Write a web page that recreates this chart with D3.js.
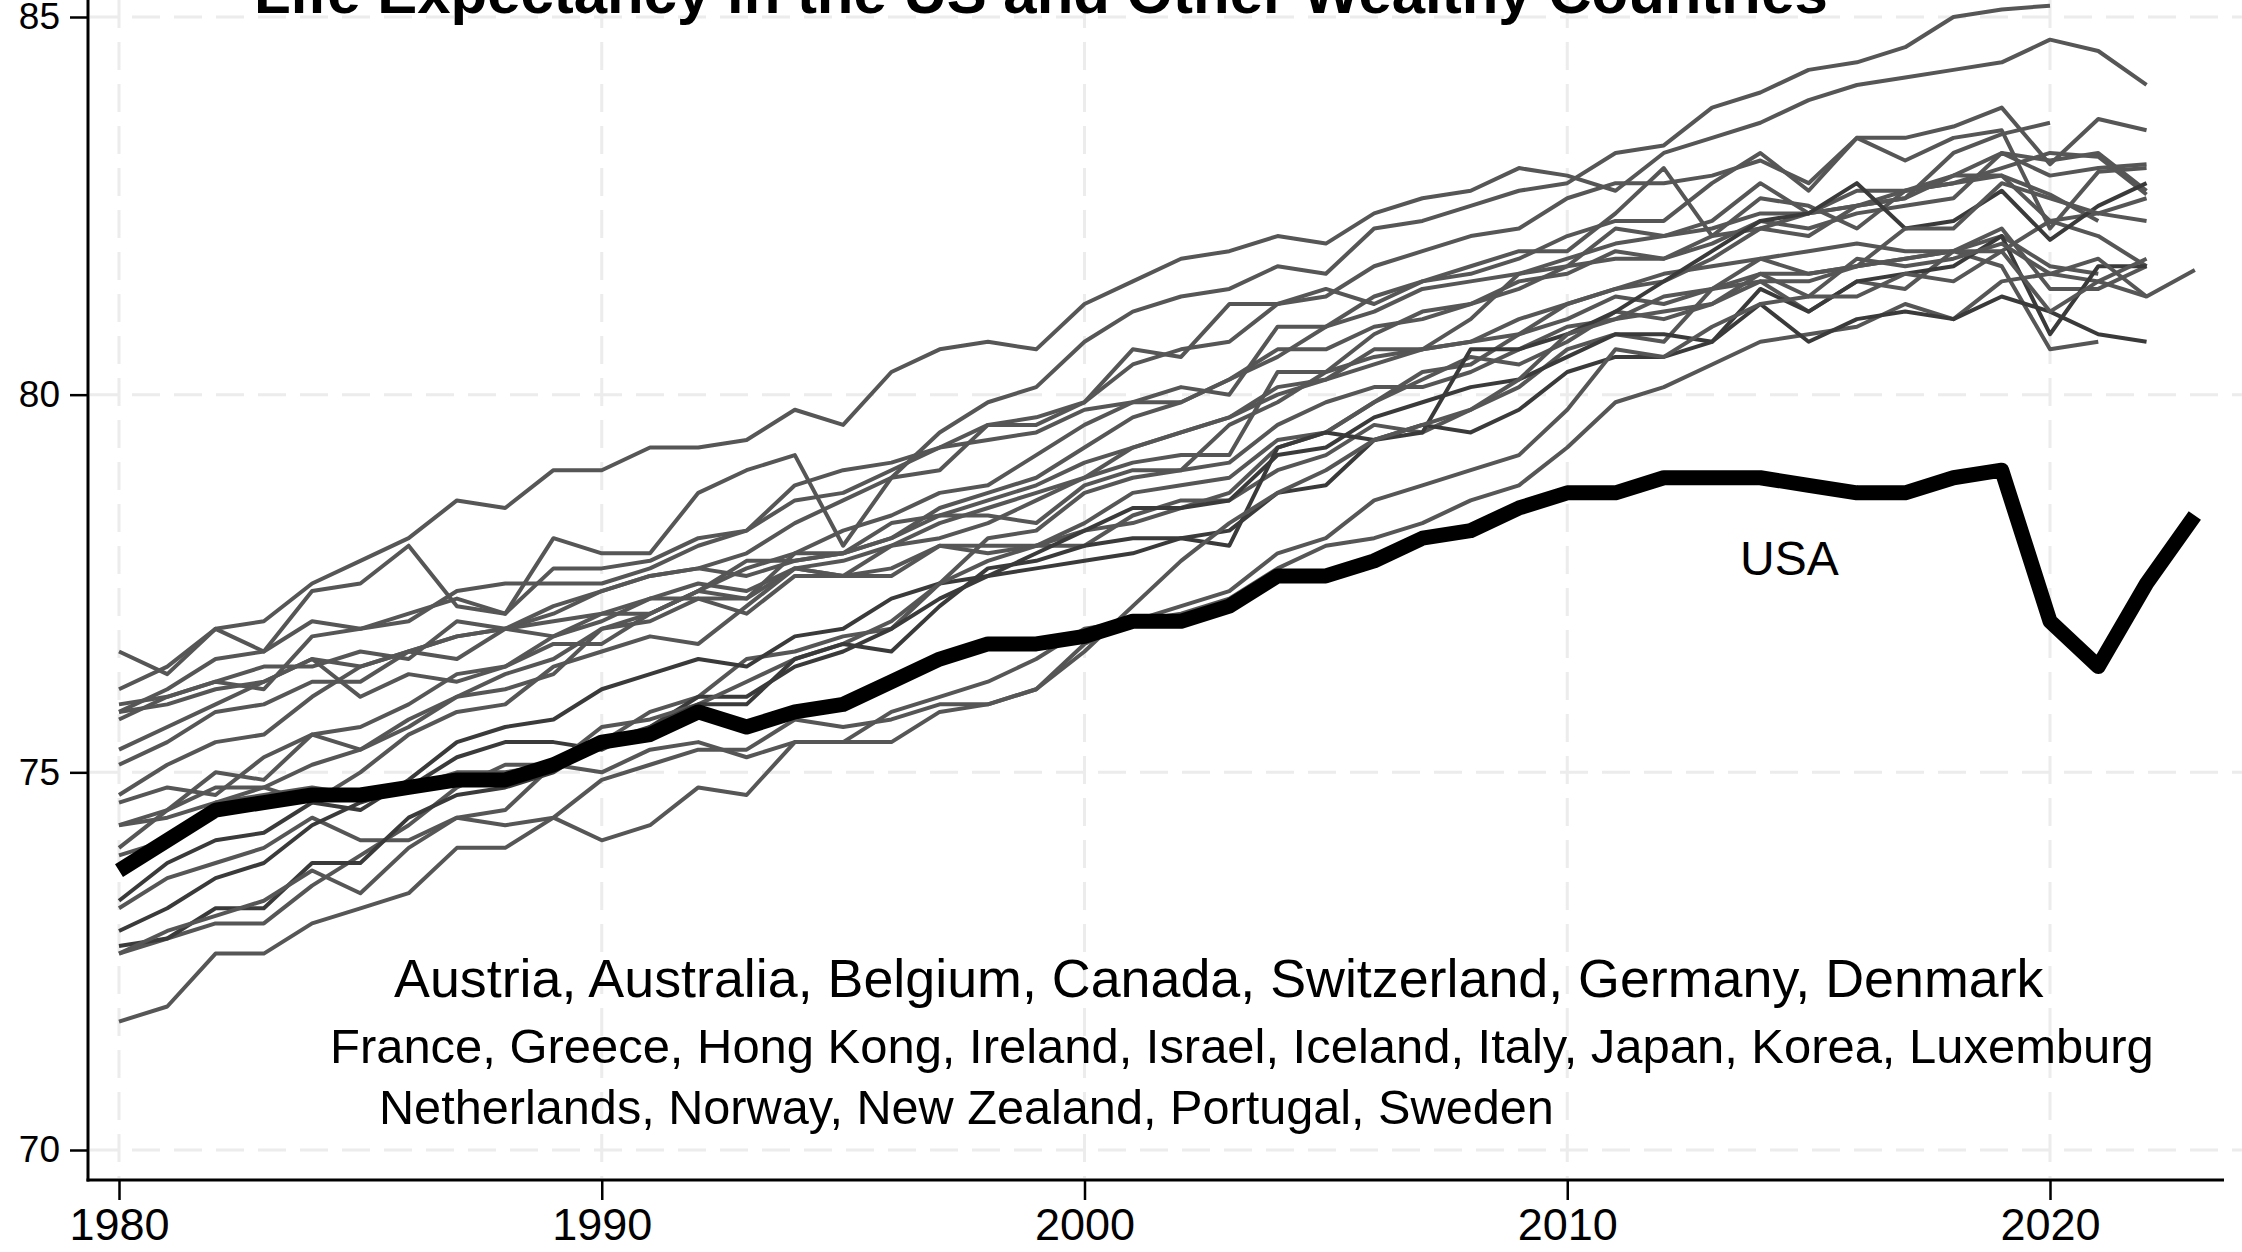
<!DOCTYPE html>
<html>
<head>
<meta charset="UTF-8">
<title>Life Expectancy in the US and Other Wealthy Countries</title>
<script src="https://d3js.org/d3.v7.min.js"></script>
<style>
  body { margin: 0; background: #fff; }
  svg { display: block; font-family: "Liberation Sans", Arial, Helvetica, sans-serif; }
  .grid line { stroke: #ececec; stroke-width: 3; stroke-dasharray: 28,14; }
  .country { fill: none; stroke-width: 4; stroke-linejoin: round; }
  .usa { fill: none; stroke: #000; stroke-width: 15; stroke-linejoin: round; }
  .axis text { fill: #000; }
  .axis line { stroke: #000; stroke-width: 2.5; }
</style>
</head>
<body>
<script>
// ---- data (life expectancy at birth, years) ----
const years = [1980, 1981, 1982, 1983, 1984, 1985, 1986, 1987, 1988, 1989,
  1990, 1991, 1992, 1993, 1994, 1995, 1996, 1997, 1998, 1999,
  2000, 2001, 2002, 2003, 2004, 2005, 2006, 2007, 2008, 2009,
  2010, 2011, 2012, 2013, 2014, 2015, 2016, 2017, 2018, 2019,
  2020, 2021, 2022, 2023];

const xTicks = [1980, 1990, 2000, 2010, 2020];
const yTicks = [70, 75, 80, 85];

const usa = [73.7, 74.1, 74.5, 74.6, 74.7, 74.7, 74.8, 74.9, 74.9, 75.1,
  75.4, 75.5, 75.8, 75.6, 75.8, 75.9, 76.2, 76.5, 76.7, 76.7,
  76.8, 77.0, 77.0, 77.2, 77.6, 77.6, 77.8, 78.1, 78.2, 78.5,
  78.7, 78.7, 78.9, 78.9, 78.9, 78.8, 78.7, 78.7, 78.9, 79.0,
  77.0, 76.4, 77.5, 78.4];

const japan = [76.1, 76.4, 76.9, 77.0, 77.5, 77.8, 78.1, 78.6, 78.5, 79.0,
  79.0, 79.3, 79.3, 79.4, 79.8, 79.6, 80.3, 80.6, 80.7, 80.6,
  81.2, 81.5, 81.8, 81.9, 82.1, 82.0, 82.4, 82.6, 82.7, 83.0,
  82.9, 82.7, 83.2, 83.4, 83.6, 83.9, 84.1, 84.2, 84.3, 84.4,
  84.7, 84.55, 84.1];
const hongKong = [74.7, 75.1, 75.4, 75.5, 76.0, 76.4, 76.6, 76.8, 76.9, 77.1,
  77.4, 77.6, 77.7, 77.9, 78.3, 78.6, 78.9, 79.5, 79.9, 80.1,
  80.7, 81.1, 81.3, 81.4, 81.7, 81.6, 82.2, 82.3, 82.5, 82.7,
  82.8, 83.2, 83.3, 83.8, 84.0, 84.3, 84.4, 84.6, 85.0, 85.1,
  85.15];
const iceland = [76.6, 76.3, 76.9, 76.6, 77.4, 77.5, 78.0, 77.2, 77.1, 78.1,
  77.9, 77.9, 78.7, 79.0, 79.2, 78.0, 78.9, 79.0, 79.6, 79.6,
  79.9, 80.6, 80.5, 81.2, 81.2, 81.4, 81.2, 81.5, 81.7, 81.9,
  81.9, 82.4, 83.0, 82.1, 82.6, 82.5, 82.2, 82.7, 82.9, 83.2,
  83.1, 83.2, 82.7];
const switzerland = [75.7, 76.0, 76.2, 76.1, 76.8, 76.9, 77.0, 77.4, 77.5, 77.5,
  77.5, 77.7, 78.0, 78.2, 78.6, 78.7, 79.0, 79.3, 79.6, 79.7,
  79.9, 80.4, 80.6, 80.7, 81.2, 81.3, 81.7, 81.9, 82.1, 82.2,
  82.6, 82.8, 82.8, 82.9, 83.1, 82.8, 83.4, 83.4, 83.55, 83.8,
  83.05, 83.65, 83.5];
const sweden = [75.8, 76.1, 76.5, 76.6, 77.0, 76.9, 77.1, 77.3, 77.1, 77.7,
  77.7, 77.8, 78.1, 78.2, 78.8, 79.0, 79.1, 79.3, 79.4, 79.5,
  79.8, 79.9, 79.9, 80.2, 80.6, 80.6, 80.9, 81.0, 81.2, 81.5,
  81.6, 81.9, 81.8, 82.0, 82.3, 82.2, 82.4, 82.5, 82.6, 83.2,
  82.9, 83.0, 83.05];
const netherlands = [75.9, 76.0, 76.2, 76.4, 76.4, 76.6, 76.5, 77.0, 76.9, 76.8,
  77.0, 77.3, 77.3, 77.1, 77.6, 77.6, 77.7, 78.0, 78.0, 78.0,
  78.2, 78.3, 78.5, 78.7, 79.3, 79.5, 79.9, 80.3, 80.4, 80.8,
  81.0, 81.3, 81.2, 81.4, 81.8, 81.6, 81.7, 81.8, 81.9, 82.2,
  81.4, 81.4, 81.7];
const norway = [75.8, 75.9, 76.1, 76.2, 76.5, 76.0, 76.3, 76.2, 76.4, 76.7,
  76.7, 77.1, 77.4, 77.3, 77.9, 77.9, 78.3, 78.4, 78.4, 78.3,
  78.8, 79.0, 79.0, 79.6, 79.9, 80.3, 80.5, 80.6, 80.7, 81.0,
  81.2, 81.4, 81.5, 81.8, 82.2, 82.4, 82.5, 82.7, 82.8, 83.0,
  83.2, 83.15, 82.65];
const canada = [75.3, 75.6, 75.9, 76.2, 76.5, 76.4, 76.6, 76.8, 76.9, 77.2,
  77.4, 77.6, 77.7, 77.6, 77.8, 77.9, 78.1, 78.4, 78.6, 78.8,
  79.1, 79.3, 79.5, 79.7, 80.0, 80.2, 80.4, 80.6, 80.7, 80.8,
  81.2, 81.4, 81.6, 81.7, 81.8, 81.9, 82.0, 81.9, 81.9, 82.1,
  81.7, 81.6];
const greece = [75.1, 75.4, 75.8, 75.9, 76.2, 76.2, 76.6, 76.5, 76.9, 77.0,
  77.1, 77.3, 77.5, 77.4, 77.7, 77.6, 77.6, 78.0, 77.9, 78.0,
  78.0, 78.4, 78.6, 78.6, 79.0, 79.2, 79.6, 79.5, 79.8, 80.1,
  80.6, 80.8, 80.7, 81.4, 81.5, 81.1, 81.5, 81.4, 81.9, 81.7,
  80.6, 80.7];
const australia = [74.6, 74.8, 74.7, 75.2, 75.5, 75.3, 75.7, 76.0, 76.1, 76.3,
  76.9, 77.1, 77.4, 77.8, 77.8, 77.9, 78.1, 78.5, 78.7, 78.9,
  79.3, 79.7, 79.9, 80.2, 80.5, 80.9, 81.1, 81.4, 81.5, 81.6,
  81.8, 82.0, 82.1, 82.2, 82.4, 82.4, 82.5, 82.6, 83.2, 83.45,
  83.6];
const denmark = [74.3, 74.4, 74.6, 74.7, 74.8, 74.7, 74.8, 75.0, 75.0, 75.1,
  75.0, 75.3, 75.4, 75.2, 75.4, 75.4, 75.8, 76.0, 76.2, 76.5,
  76.9, 77.0, 77.1, 77.3, 77.7, 78.0, 78.1, 78.3, 78.6, 78.8,
  79.3, 79.9, 80.1, 80.4, 80.7, 80.8, 80.9, 81.2, 81.0, 81.5,
  81.6, 81.5, 81.3];
const france = [74.3, 74.5, 74.8, 74.8, 75.1, 75.3, 75.6, 76.0, 76.3, 76.5,
  76.9, 77.0, 77.3, 77.3, 77.7, 77.8, 78.0, 78.3, 78.5, 78.7,
  78.9, 79.1, 79.2, 79.2, 80.3, 80.3, 80.8, 81.1, 81.2, 81.4,
  81.7, 82.2, 82.1, 82.3, 82.8, 82.4, 82.7, 82.7, 82.8, 82.9,
  82.3, 82.4, 82.3];
const italy = [74.0, 74.5, 75.0, 74.9, 75.5, 75.6, 75.9, 76.3, 76.4, 76.8,
  77.1, 77.1, 77.4, 77.7, 77.9, 78.2, 78.4, 78.7, 78.8, 79.2,
  79.6, 79.9, 80.1, 80.0, 80.9, 80.9, 81.3, 81.5, 81.6, 81.8,
  82.1, 82.3, 82.3, 82.8, 83.2, 82.7, 83.4, 83.1, 83.4, 83.5,
  82.2, 82.95, 83.0];
const israel = [73.9, 74.1, 74.6, 74.8, 74.6, 75.0, 75.5, 75.8, 75.9, 76.4,
  76.6, 76.8, 76.7, 77.2, 77.7, 77.6, 78.0, 78.1, 78.3, 78.6,
  78.9, 79.3, 79.5, 79.7, 80.1, 80.2, 80.6, 80.6, 81.0, 81.6,
  81.7, 81.8, 81.8, 82.1, 82.2, 82.1, 82.5, 82.6, 82.9, 82.9,
  82.65, 82.3];
const newZealand = [73.2, 73.6, 73.8, 74.0, 74.4, 74.1, 74.1, 74.4, 74.5, 75.1,
  75.4, 75.8, 76.0, 76.5, 76.6, 76.8, 76.9, 77.5, 78.1, 78.2,
  78.7, 78.9, 79.0, 79.1, 79.6, 79.9, 80.1, 80.1, 80.3, 80.6,
  80.9, 81.0, 81.3, 81.4, 81.6, 81.6, 81.7, 81.8, 81.9, 81.9,
  82.3, 82.1, 81.7];
const belgium = [73.3, 73.8, 74.1, 74.2, 74.6, 74.5, 74.9, 75.4, 75.6, 75.7,
  76.1, 76.3, 76.5, 76.4, 76.8, 76.9, 77.3, 77.5, 77.6, 77.7,
  77.8, 77.9, 78.1, 78.2, 78.7, 78.8, 79.4, 79.6, 79.5, 79.8,
  80.3, 80.5, 80.5, 80.7, 81.4, 81.1, 81.5, 81.6, 81.7, 82.1,
  80.8, 81.7, 81.7];
const germany = [72.9, 73.2, 73.6, 73.8, 74.3, 74.6, 74.8, 75.2, 75.4, 75.4,
  75.3, 75.6, 76.0, 76.0, 76.4, 76.6, 76.9, 77.3, 77.6, 77.9,
  78.2, 78.5, 78.5, 78.6, 79.2, 79.3, 79.7, 79.9, 80.1, 80.2,
  80.5, 80.8, 80.8, 80.7, 81.2, 80.7, 81.0, 81.1, 81.0, 81.3,
  81.1, 80.8, 80.7];
const austria = [72.6, 72.8, 73.0, 73.0, 73.5, 73.9, 74.3, 74.8, 75.1, 75.1,
  75.6, 75.7, 75.9, 76.2, 76.5, 76.7, 77.0, 77.5, 77.8, 78.0,
  78.3, 78.7, 78.8, 78.9, 79.4, 79.5, 79.9, 80.2, 80.5, 80.4,
  80.7, 81.1, 81.0, 81.2, 81.6, 81.3, 81.8, 81.7, 81.8, 82.0,
  81.6, 81.8, 81.3, 81.65];
const luxembourg = [72.7, 72.8, 73.2, 73.2, 73.8, 73.8, 74.4, 74.7, 74.8, 75.0,
  75.4, 75.6, 75.9, 75.9, 76.5, 76.7, 76.6, 77.2, 77.7, 77.8,
  78.0, 78.1, 78.1, 78.0, 79.3, 79.5, 79.4, 79.5, 80.6, 80.6,
  80.8, 81.1, 81.5, 81.9, 82.3, 82.4, 82.8, 82.2, 82.3, 82.7,
  82.05, 82.5, 82.8];
const ireland = [72.6, 72.9, 73.1, 73.3, 73.7, 73.4, 74.0, 74.4, 74.3, 74.4,
  74.9, 75.1, 75.3, 75.3, 75.7, 75.6, 75.7, 75.9, 75.9, 76.1,
  76.6, 77.2, 77.8, 78.3, 78.7, 79.0, 79.4, 79.6, 79.8, 80.2,
  80.8, 81.0, 81.1, 81.2, 81.5, 81.5, 81.7, 82.2, 82.2, 82.8,
  82.6, 82.4, 82.6];
const portugal = [71.7, 71.9, 72.6, 72.6, 73.0, 73.2, 73.4, 74.0, 74.0, 74.4,
  74.1, 74.3, 74.8, 74.7, 75.4, 75.4, 75.4, 75.8, 75.9, 76.1,
  76.7, 77.0, 77.2, 77.4, 77.9, 78.1, 78.6, 78.8, 79.0, 79.2,
  79.8, 80.6, 80.5, 80.9, 81.2, 81.3, 81.3, 81.6, 81.5, 81.9,
  81.1, 81.5, 81.8];

const others = [japan, hongKong, iceland, switzerland, sweden, netherlands, norway,
  canada, greece, australia, denmark, france, italy, israel, newZealand, belgium,
  germany, austria, luxembourg, ireland, portugal];

const titleText = 'Life Expectancy in the US and Other Wealthy Countries';
const countryLines = [
  'Austria, Australia, Belgium, Canada, Switzerland, Germany, Denmark',
  'France, Greece, Hong Kong, Ireland, Israel, Iceland, Italy, Japan, Korea, Luxemburg',
  'Netherlands, Norway, New Zealand, Portugal, Sweden'
];

// ---- chart ----
const W = 2242, H = 1252;
const axisX = 88, axisY = 1180;

const svg = d3.select('body').append('svg')
  .attr('width', W)
  .attr('height', H);

const x = d3.scaleLinear().domain([1980, 2020]).range([119, 2050]);
const y = d3.scaleLinear().domain([70, 85]).range([1150, 17]);

// grid
const grid = svg.append('g').attr('class', 'grid');
grid.selectAll('line.h').data(yTicks).enter().append('line')
  .attr('class', 'h')
  .attr('x1', axisX + 2).attr('x2', W)
  .attr('y1', d => y(d)).attr('y2', d => y(d));
grid.selectAll('line.v').data(xTicks).enter().append('line')
  .attr('class', 'v')
  .attr('x1', d => x(d)).attr('x2', d => x(d))
  .attr('y1', 0).attr('y2', axisY - 2);

// lines
const line = d3.line()
  .defined(d => d.v != null)
  .x(d => x(d.year))
  .y(d => y(d.v));

const toPoints = vals => vals.map((v, i) => ({ year: years[i], v: v }));
const darker = [15, 16, 18];

svg.append('g').selectAll('path').data(others).enter().append('path')
  .attr('class', 'country')
  .style('stroke', (d, i) => darker.includes(i) ? '#3a3a3a' : '#565656')
  .attr('d', d => line(toPoints(d)));

svg.append('path')
  .attr('class', 'usa')
  .attr('d', line(toPoints(usa)));

// axes
const yAxis = d3.axisLeft(y).tickValues(yTicks).tickSize(18).tickPadding(10);
const yG = svg.append('g').attr('class', 'axis')
  .attr('transform', 'translate(' + axisX + ',0)')
  .call(yAxis);
yG.select('.domain').remove();
yG.attr('font-size', 37).attr('font-family', '"Liberation Sans", Arial, sans-serif');

const xAxis = d3.axisBottom(x).tickValues(xTicks).tickFormat(d3.format('d')).tickSize(20).tickPadding(8);
const xG = svg.append('g').attr('class', 'axis')
  .attr('transform', 'translate(0,' + axisY + ')')
  .call(xAxis);
xG.select('.domain').remove();
xG.attr('font-size', 45).attr('font-family', '"Liberation Sans", Arial, sans-serif');

svg.append('line')
  .attr('x1', axisX).attr('x2', axisX)
  .attr('y1', 0).attr('y2', axisY + 1.5)
  .attr('stroke', '#000').attr('stroke-width', 3);
svg.append('line')
  .attr('x1', axisX - 1.5).attr('x2', 2224)
  .attr('y1', axisY).attr('y2', axisY)
  .attr('stroke', '#000').attr('stroke-width', 3);

// fit a text element to a target width
function fitWidth(sel, target) {
  const w = sel.node().getComputedTextLength();
  const fs = parseFloat(sel.attr('font-size'));
  sel.attr('font-size', (fs * target / w).toFixed(2));
}

// title (cut off at the top, as in the original)
const title = svg.append('text')
  .attr('x', 1041).attr('y', 13)
  .attr('text-anchor', 'middle')
  .attr('font-weight', 'bold')
  .attr('font-size', 52)
  .text(titleText);
fitWidth(title, 1574);

// USA label
svg.append('text')
  .attr('x', 1740).attr('y', 575)
  .attr('font-size', 48)
  .text('USA');

// country list
const listPos = [
  { x: 394, y: 997, w: 1650 },
  { x: 330, y: 1063, w: 1824 },
  { x: 379, y: 1124, w: 1175 }
];
countryLines.forEach((t, i) => {
  const txt = svg.append('text')
    .attr('x', listPos[i].x).attr('y', listPos[i].y)
    .attr('font-size', 46)
    .text(t);
  fitWidth(txt, listPos[i].w);
});
</script>
</body>
</html>
